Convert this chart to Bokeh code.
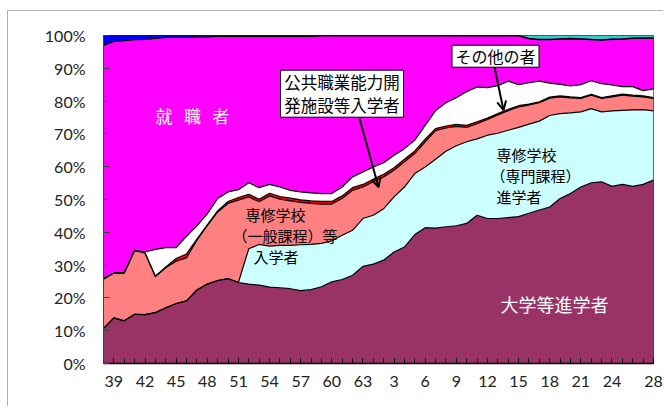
from bokeh.plotting import figure
from bokeh.models import (ColumnDataSource, Range1d, FixedTicker, Label,
                          BoxAnnotation, Arrow, OpenHead)
from bokeh.embed import file_html
from bokeh.resources import INLINE

# ---------------- data (share of high-school graduates, %) ----------------
years = list(range(1963, 2017))
tick_years = [1964, 1967, 1970, 1973, 1976, 1979, 1982, 1985, 1988, 1991,
              1994, 1997, 2000, 2003, 2006, 2009, 2012, 2016]
tick_labels = ["39", "42", "45", "48", "51", "54", "57", "60", "63", "3",
               "6", "9", "12", "15", "18", "21", "24", "28"]
y_ticks = [0, 10, 20, 30, 40, 50, 60, 70, 80, 90, 100]
y_tick_labels = ["0%", "10%", "20%", "30%", "40%", "50%", "60%", "70%",
                 "80%", "90%", "100%"]

univ = [10.7, 13.9, 13.0, 15.0, 14.9, 15.5, 17.0, 18.3, 19.1, 22.4,
        24.2, 25.3, 25.9, 24.7, 24.2, 23.9, 23.3, 23.1, 22.8, 22.2,
        22.5, 23.4, 24.9, 25.6, 26.9, 29.6, 30.3, 31.5, 34.0, 35.5,
        39.3, 41.4, 41.3, 41.7, 42.0, 42.7, 45.2, 44.2, 44.2, 44.5,
        44.8, 45.8, 46.8, 47.7, 50.3, 51.8, 53.8, 55.1, 55.4, 54.0,
        54.6, 54.0, 54.6, 55.9]
senmon = [0, 0, 0, 0, 0, 0, 0, 0, 0, 0,
          0, 0, 0, 0, 10.8, 12.4, 12.5, 12.9, 13.2, 14.0,
          13.8, 13.2, 12.5, 13.5, 13.7, 14.6, 14.9, 15.7, 16.8, 18.3,
          18.6, 18.5, 21.0, 23.0, 24.4, 24.9, 23.3, 25.4, 26.0, 26.6,
          27.2, 27.2, 27.1, 27.9, 25.9, 24.6, 22.9, 22.6, 21.3, 23.0,
          22.6, 23.3, 22.8, 21.1]
ippan = [15.1, 13.7, 14.6, 19.5, 18.8, 11.0, 12.2, 12.9, 13.1, 15.2,
         17.8, 20.9, 22.9, 25.1, 15.8, 13.0, 15.3, 14.1, 13.6, 12.9,
         12.5, 12.0, 11.2, 11.2, 12.2, 9.6, 10.2, 9.7, 8.1, 7.7,
         6.1, 7.7, 8.7, 7.1, 5.9, 4.4, 4.6, 4.8, 5.6, 6.0,
         6.2, 5.8, 5.6, 5.3, 5.1, 4.6, 4.1, 4.1, 4.1, 4.3,
         4.6, 4.2, 3.9, 3.8]
kokyo = [0, 0, 0, 0, 0, 0.1, 0.2, 0.8, 1.2, 0.3,
         0.3, 0.3, 0.6, 0.8, 0.8, 0.8, 0.8, 0.8, 0.8, 0.8,
         0.8, 0.8, 0.8, 0.8, 0.8, 0.8, 0.8, 0.8, 0.8, 0.8,
         0.8, 0.8, 0.6, 0.6, 0.6, 0.6, 0.6, 0.4, 0.4, 0.4,
         0.4, 0.3, 0.3, 0.3, 0.3, 0.3, 0.3, 0.3, 0.3, 0.3,
         0.3, 0.3, 0.3, 0.3]
other = [0, 0, 0, 0, 0.3, 8.2, 5.9, 3.3, 5.4, 4.1,
         3.3, 3.8, 2.9, 2.4, 3.5, 3.5, 2.7, 2.9, 2.4, 2.4,
         2.4, 2.4, 2.4, 2.7, 3.3, 3.8, 3.7, 3.5, 3.8, 3.2,
         3.3, 4.2, 5.5, 7.1, 8.1, 10.3, 10.6, 9.3, 8.5, 8.6,
         6.4, 6.5, 6.3, 4.3, 3.5, 3.3, 3.9, 4.1, 4.2, 3.3,
         2.3, 2.6, 1.6, 2.6]
shushoku = [71.2, 70.6, 70.8, 64.2, 64.8, 64.3, 64.1, 64.1, 60.6, 57.6,
            54.0, 49.4, 47.4, 46.7, 44.6, 46.1, 45.1, 45.9, 46.9, 47.4,
            47.7, 48.1, 48.1, 46.1, 43.0, 41.5, 40.0, 38.7, 36.4, 34.4,
            31.8, 27.3, 22.8, 20.4, 18.9, 17.0, 15.6, 15.8, 15.2, 13.8,
            14.9, 13.4, 12.6, 13.2, 13.8, 14.4, 13.9, 12.5, 13.3, 13.9,
            14.5, 14.7, 16.0, 15.5]
fumei = [3.0, 1.8, 1.6, 1.3, 1.2, 0.9, 0.6, 0.6, 0.6, 0.4,
         0.4, 0.3, 0.3, 0.3, 0.3, 0.3, 0.3, 0.3, 0.3, 0.3,
         0.3, 0.1, 0.1, 0.1, 0.1, 0.1, 0.1, 0.1, 0.1, 0.1,
         0.1, 0.1, 0.1, 0.1, 0.1, 0.1, 0.1, 0.1, 0.1, 0.1,
         0.1, 0.1, 0.1, 0.1, 0.1, 0.1, 0.1, 0.1, 0.1, 0.1,
         0.1, 0.1, 0.1, 0.1]
ichiji = [0] * 41 + [0.9, 1.2, 1.2, 1.0, 0.9, 1.0, 1.2, 1.3, 1.1, 1.0,
                     0.8, 0.7, 0.7]

series = ["univ", "senmon", "ippan", "kokyo", "other", "shushoku", "fumei", "ichiji"]
colors = ["#993366", "#CCFFFF", "#FF8080", "#FF0000", "#FFFFFF", "#FF00FF",
          "#0000FF", "#33CCCC"]

src = ColumnDataSource(dict(year=years, univ=univ, senmon=senmon, ippan=ippan,
                            kokyo=kokyo, other=other, shushoku=shushoku,
                            fumei=fumei, ichiji=ichiji))

# ---------------- figure ----------------
p = figure(width=656, height=396, output_backend="svg", toolbar_location=None,
           x_range=Range1d(1963, 2016), y_range=Range1d(0, 100),
           min_border_left=95, min_border_right=11, min_border_top=24,
           min_border_bottom=44)
p.margin = (10, 0, 0, 7)
p.styles = {"border-left": "1px solid #b4b4b4", "border-top": "1px solid #b4b4b4"}
p.background_fill_color = "white"
p.border_fill_color = "white"
p.outline_line_color = "#404040"
p.xgrid.visible = False
p.ygrid.visible = False

p.varea_stack(stackers=series, x="year", color=colors, source=src)
p.vline_stack(stackers=series[:-1], x="year", color="black", line_width=1.2,
              source=src)

TICK_FONT = "Lato"
xa = p.xaxis[0]
xa.ticker = FixedTicker(ticks=tick_years, minor_ticks=years)
xa.major_label_overrides = dict(zip(tick_years, tick_labels))
xa.major_tick_in = 5
xa.major_tick_out = 0
xa.minor_tick_in = 5
xa.minor_tick_out = 0
xa.axis_line_width = 1.5
xa.axis_line_color = "black"
xa.major_tick_line_color = "black"
xa.minor_tick_line_color = "black"
xa.major_label_standoff = 12
xa.major_label_text_font = TICK_FONT
xa.major_label_text_font_size = "16px"
xa.major_label_text_color = "#222222"

ya = p.yaxis[0]
ya.ticker = FixedTicker(ticks=y_ticks)
ya.major_label_overrides = dict(zip(y_ticks, y_tick_labels))
ya.major_tick_in = 6
ya.major_tick_out = 0
ya.minor_tick_line_color = None
ya.axis_line_color = "#404040"
ya.major_tick_line_color = "#404040"
ya.major_label_standoff = 18
ya.major_label_text_font = TICK_FONT
ya.major_label_text_font_size = "16px"
ya.major_label_text_color = "#222222"


# reference pixel -> data coordinates (for annotation placement only)
def xd(px):
    return 1963 + (px - 103) * 53 / 550


def yd(py):
    return (363.3 - py) / 3.28


JP = "Noto Sans CJK JP"


def add_label(text, px, py, size, color="black", align="left"):
    p.add_layout(Label(x=xd(px), y=yd(py), text=text, text_font=JP,
                       text_font_size=size, text_color=color,
                       text_align=align, text_baseline="middle"))


nb = "\u00a0\u00a0\u00a0"
add_label("就" + nb + "職" + nb + "者", 155, 115, "17px", "white")
add_label("大学等進学者", 500, 304, "18px", "white")

add_label("専修学校", 245, 214, "15px")
add_label("（一般課程）等", 232, 235, "15px")
add_label("入学者", 253, 256, "15px")

add_label("専修学校", 496, 154, "15px")
add_label("（専門課程）", 490, 175, "15px")
add_label("進学者", 496, 196, "15px")

# callout 1
p.add_layout(BoxAnnotation(left=xd(280), right=xd(403), top=yd(70), bottom=yd(117),
                           fill_color="white", fill_alpha=1.0,
                           line_color="black", line_width=1, line_alpha=1.0))
add_label("公共職業能力開", 341.5, 82, "16.5px", align="center")
add_label("発施設等入学者", 341.5, 105, "16.5px", align="center")
p.add_layout(Arrow(end=OpenHead(size=9, line_width=2, line_color="black"),
                   x_start=xd(359), y_start=yd(118), x_end=xd(378), y_end=yd(187),
                   line_width=2, line_color="black"))

# callout 2
p.add_layout(BoxAnnotation(left=xd(451.5), right=xd(538.5), top=yd(45), bottom=yd(67),
                           fill_color="white", fill_alpha=1.0,
                           line_color="black", line_width=1, line_alpha=1.0))
add_label("その他の者", 495, 56, "16px", align="center")
p.add_layout(Arrow(end=OpenHead(size=9, line_width=2, line_color="black"),
                   x_start=xd(494), y_start=yd(67), x_end=xd(503), y_end=yd(110),
                   line_width=2, line_color="black"))

open("out.html", "w").write(file_html(p, INLINE))
